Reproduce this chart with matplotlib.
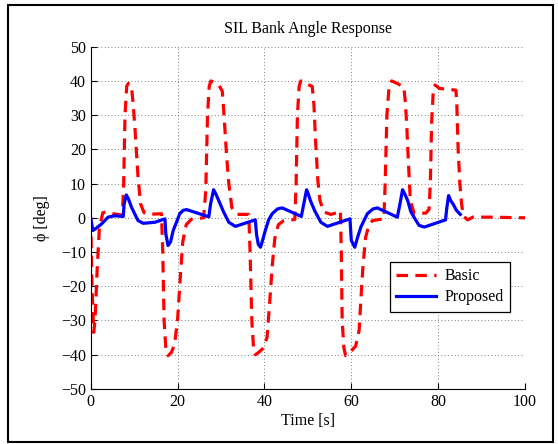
import matplotlib
matplotlib.use("Agg")
import matplotlib.pyplot as plt
from matplotlib.patches import Rectangle

plt.rcParams['font.family'] = ['Liberation Serif', 'DejaVu Serif']
plt.rcParams['mathtext.fontset'] = 'stix'

# Basic controller response
basic_t = [0, 0.3, 0.7, 1.0, 1.5, 2.0, 2.8, 4.0, 5.2, 7.3, 7.6, 7.9, 8.3, 8.7, 9.4, 9.8,
           10.2, 10.9, 11.5, 12.3, 13, 16.3, 16.6, 16.9, 17.3, 17.8, 18.6, 19.3, 20.0,
           20.6, 21.2, 22.0, 23.2, 26.0, 26.5, 26.9, 27.3, 27.7, 28.3, 29.6, 30.3, 30.7,
           31.3, 31.8, 32.5, 33.7, 36.4, 36.7, 37.1, 37.5, 37.9, 38.7, 39.8, 40.6, 41.2,
           41.8, 42.4, 43.2, 44.5, 47.0, 47.3, 47.6, 48.0, 48.4, 49.2, 51, 51.4, 51.8,
           52.3, 52.8, 53.7, 55.3, 57.0, 57.5, 57.7, 57.9, 58.3, 58.7, 59.9, 61.0, 61.8,
           62.3, 62.7, 63.3, 64.1, 64.9, 67.5, 67.8, 68.2, 68.7, 69.3, 70, 72.1, 72.5,
           72.8, 73.2, 73.6, 74.5, 77.2, 77.9, 78.2, 78.5, 78.9, 79.3, 80.3, 84.1, 84.3,
           84.6, 85.0, 85.4, 85.8, 86.8, 88.0, 92, 100]
basic_phi = [0, -20, -33.5, -30, -15, -3, 1.5, 1.8, 1.2, 0.8, 10, 30, 38.5, 39.3, 38.3, 33,
             26, 12, 4, 1.5, 1, 1.2, -10, -30, -38, -40.3, -39.3, -37, -30,
             -18, -7, -2, -0.4, 0, 8, 30, 38.5, 40, 39.7, 38.6, 37, 30,
             18, 10, 3, 1, 1, -10, -30, -38, -40, -39.3, -38, -35, -25,
             -14, -6, -2, -0.8, -0.5, 10, 30, 38.5, 40, 39.4, 38.4, 33, 22,
             11, 5, 1.7, 1, 1.6, 2.1, -10, -30, -38, -40.3, -39, -37.5, -33,
             -22, -14, -5.7, -2, -0.8, -0.3, 10, 30, 38.3, 40, 39.6, 38.3, 33,
             26, 15, 5, 1.2, 1.4, 2.5, 10, 28, 37.5, 38.8, 37.8, 37.3, 33,
             20, 10, 4, 0.5, -0.6, 0.2, 0.2, 0]

# Proposed controller response
prop_t = [0, 0.5, 1.0, 2.5, 4.0, 5.5, 7.5, 7.7, 8.2, 8.7, 9.4, 10.2, 10.9, 12.1, 14.8,
          17.1, 17.3, 17.8, 18.4, 19.0, 20.0, 20.5, 21.3, 22.1, 27.2, 27.6, 28.3, 28.8,
          29.5, 30.5, 31.8, 33.3, 37.9, 38.2, 38.6, 39.1, 39.6, 40.2, 41.0, 41.8, 43.0,
          44.1, 48.5, 48.9, 49.7, 50.1, 50.6, 51.6, 53.0, 54.5, 59.7, 60.0, 60.8, 61.5,
          62.2, 63.7, 65, 66.0, 70.6, 71.2, 71.8, 72.3, 73.0, 73.7, 74.9, 75.6, 76.8,
          81.7, 82.0, 82.4, 82.9, 83.4, 84.2, 85.1]
prop_phi = [0, -3.7, -3.3, -1.8, 0.2, 0.6, 0.4, 4, 6.7, 5.5, 3.1, 1, -0.8, -1.6, -1.3,
            -0.3, -4.7, -8.1, -7, -3.7, -0.5, 1.2, 2.2, 2.4, 0.3, 4, 8.2, 7,
            5, 2, -1.3, -2.5, -0.6, -5, -7.8, -8.6, -6.5, -3.7, -0.5, 1.2, 2.6,
            2.9, 0.4, 3, 8.2, 7, 5, 2, -1.3, -2.5, -0.3, -6.6, -8.6, -5.5,
            -2.7, 1.2, 2.6, 2.9, 0.2, 4, 8.2, 7, 5, 1.8, -0.8, -2.2, -2.7,
            -0.6, 3, 6.5, 5, 4.1, 2.2, 1]

xticks = [0, 20, 40, 60, 80, 100]
yticks = list(range(-50, 51, 10))

fig = plt.figure(figsize=(5.58, 4.44), dpi=100)
ax = fig.add_axes([0.1625, 0.124, 0.7784, 0.7708])

ax.plot(basic_t, basic_phi, color='red', lw=2.3, ls=(0, (3.6, 2.3)), label='Basic')
ax.plot(prop_t, prop_phi, color='blue', lw=2.3, label='Proposed')

ax.set_xlim(0, 100)
ax.set_ylim(-50, 50)
ax.set_xticks(xticks)
ax.set_yticks(yticks)
ax.grid(True, ls=(0, (1, 3)), color='#555555', lw=0.6)
ax.tick_params(direction='in', length=4, labelsize=11.5, top=False, right=False)
ax.spines['top'].set_visible(False)
ax.spines['right'].set_visible(False)

ax.set_title('SIL Bank Angle Response', fontsize=11.5, pad=10)
ax.set_xlabel('Time [s]', fontsize=11.5, labelpad=2)
ax.set_ylabel('\u03d5 [deg]', fontsize=11.5, labelpad=8)

leg = ax.legend(loc='upper left', bbox_to_anchor=(0.689, 0.371), fontsize=11.5,
                fancybox=False, edgecolor='black', framealpha=1, borderaxespad=0,
                handlelength=2.5, borderpad=0.4, labelspacing=0.3,
                handletextpad=0.5)
leg.get_frame().set_linewidth(0.9)

fig.patches.append(Rectangle((8 / 558, 1 - 442 / 444), 545 / 558, 437 / 444,
                             transform=fig.transFigure, fill=False,
                             edgecolor='black', lw=1.5))

fig.savefig('out.png', dpi=100)
